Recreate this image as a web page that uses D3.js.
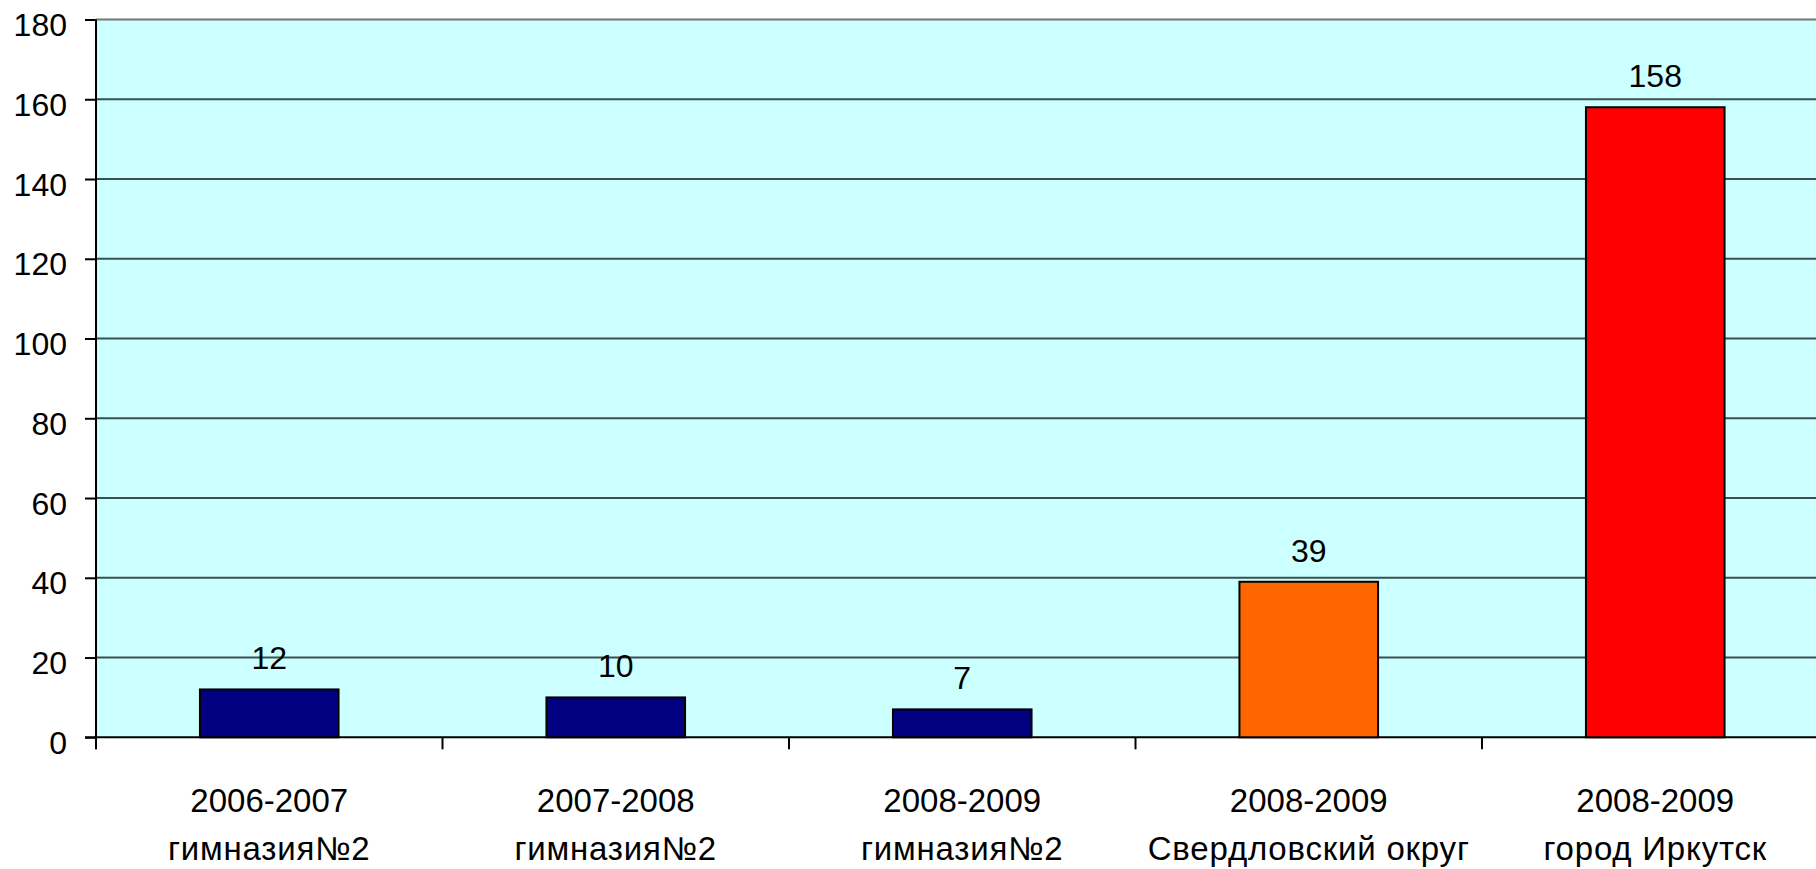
<!DOCTYPE html>
<html><head><meta charset="utf-8">
<script src="https://cdn.jsdelivr.net/npm/d3@7"></script>
<style>html,body{margin:0;padding:0;background:#fff;overflow:hidden}</style>
</head><body>
<svg id="chart" width="1816" height="869"></svg>
<script>
const years = ["2006-2007","2007-2008","2008-2009","2008-2009","2008-2009"];
const places = ["гимназия№2","гимназия№2","гимназия№2","Свердловский округ","город Иркутск"];
const values = [12, 10, 7, 39, 158];
const colors = ["#000080","#000080","#000080","#ff6600","#ff0000"];
const yTicks = [0,20,40,60,80,100,120,140,160,180];

(function(){
const svg = d3.select("#chart");
const pL = 96, pR = 1828.5, pT = 19.5, pB = 737.3;
const idx = values.map((d,i)=>i);
const x = d3.scaleBand().domain(idx).range([pL,pR]).paddingInner(0.6).paddingOuter(0.3);
const y = d3.scaleLinear().domain([0,180]).range([pB, pT]);
const font = "'Liberation Sans', Arial, sans-serif";

svg.append("rect").attr("x",pL).attr("y",pT).attr("width",pR-pL).attr("height",pB-pT).attr("fill","#ccffff");

svg.append("g").selectAll("line").data(yTicks.filter(d=>d>0)).join("line")
  .attr("x1",pL).attr("x2",pR).attr("y1",d=>y(d)).attr("y2",d=>y(d))
  .attr("stroke",d=>d===180?"#777":"#3d4f4f").attr("stroke-width",2);

const yAxis = d3.axisLeft(y).tickValues(yTicks).tickSize(11).tickPadding(18);
const yg = svg.append("g").attr("transform",`translate(${pL},0)`).call(yAxis);
yg.select(".domain").attr("stroke","#000").attr("stroke-width",2).attr("d",`M0,${pT}V${pB+12}`);
yg.selectAll(".tick line").attr("stroke","#000").attr("stroke-width",2);
yg.selectAll(".tick text").attr("font-family",font).attr("font-size",32).attr("fill","#000").attr("dy","0.5em");

const bandTicks = d3.range(values.length+1).map(i=> pL + i*x.step());
const xg = svg.append("g");
xg.append("line").attr("x1",pL-11).attr("x2",pR).attr("y1",pB).attr("y2",pB).attr("stroke","#000").attr("stroke-width",2);
xg.selectAll("line.t").data(bandTicks).join("line").attr("class","t")
  .attr("x1",d=>d).attr("x2",d=>d).attr("y1",pB).attr("y2",pB+12).attr("stroke","#000").attr("stroke-width",2);

const lbl = svg.append("g").selectAll("text").data(idx).join("text")
  .attr("font-family",font).attr("font-size",33).attr("text-anchor","middle").attr("fill","#000");
lbl.append("tspan").attr("x",i=>x(i)+x.bandwidth()/2).attr("y",812).text(i=>years[i]);
lbl.append("tspan").attr("x",i=>x(i)+x.bandwidth()/2).attr("y",860).attr("letter-spacing","0.8px").text(i=>places[i]);

svg.append("g").selectAll("rect").data(idx).join("rect")
  .attr("x",i=>x(i)).attr("width",x.bandwidth())
  .attr("y",i=>y(values[i])).attr("height",i=>pB-y(values[i]))
  .attr("fill",i=>colors[i]).attr("stroke","#000").attr("stroke-width",2);

svg.append("g").selectAll("text").data(idx).join("text")
  .attr("x",i=>x(i)+x.bandwidth()/2).attr("y",i=>y(values[i])-20)
  .attr("font-family",font).attr("font-size",32).attr("text-anchor","middle").attr("fill","#000")
  .text(i=>values[i]);
})();
</script>
</body></html>
